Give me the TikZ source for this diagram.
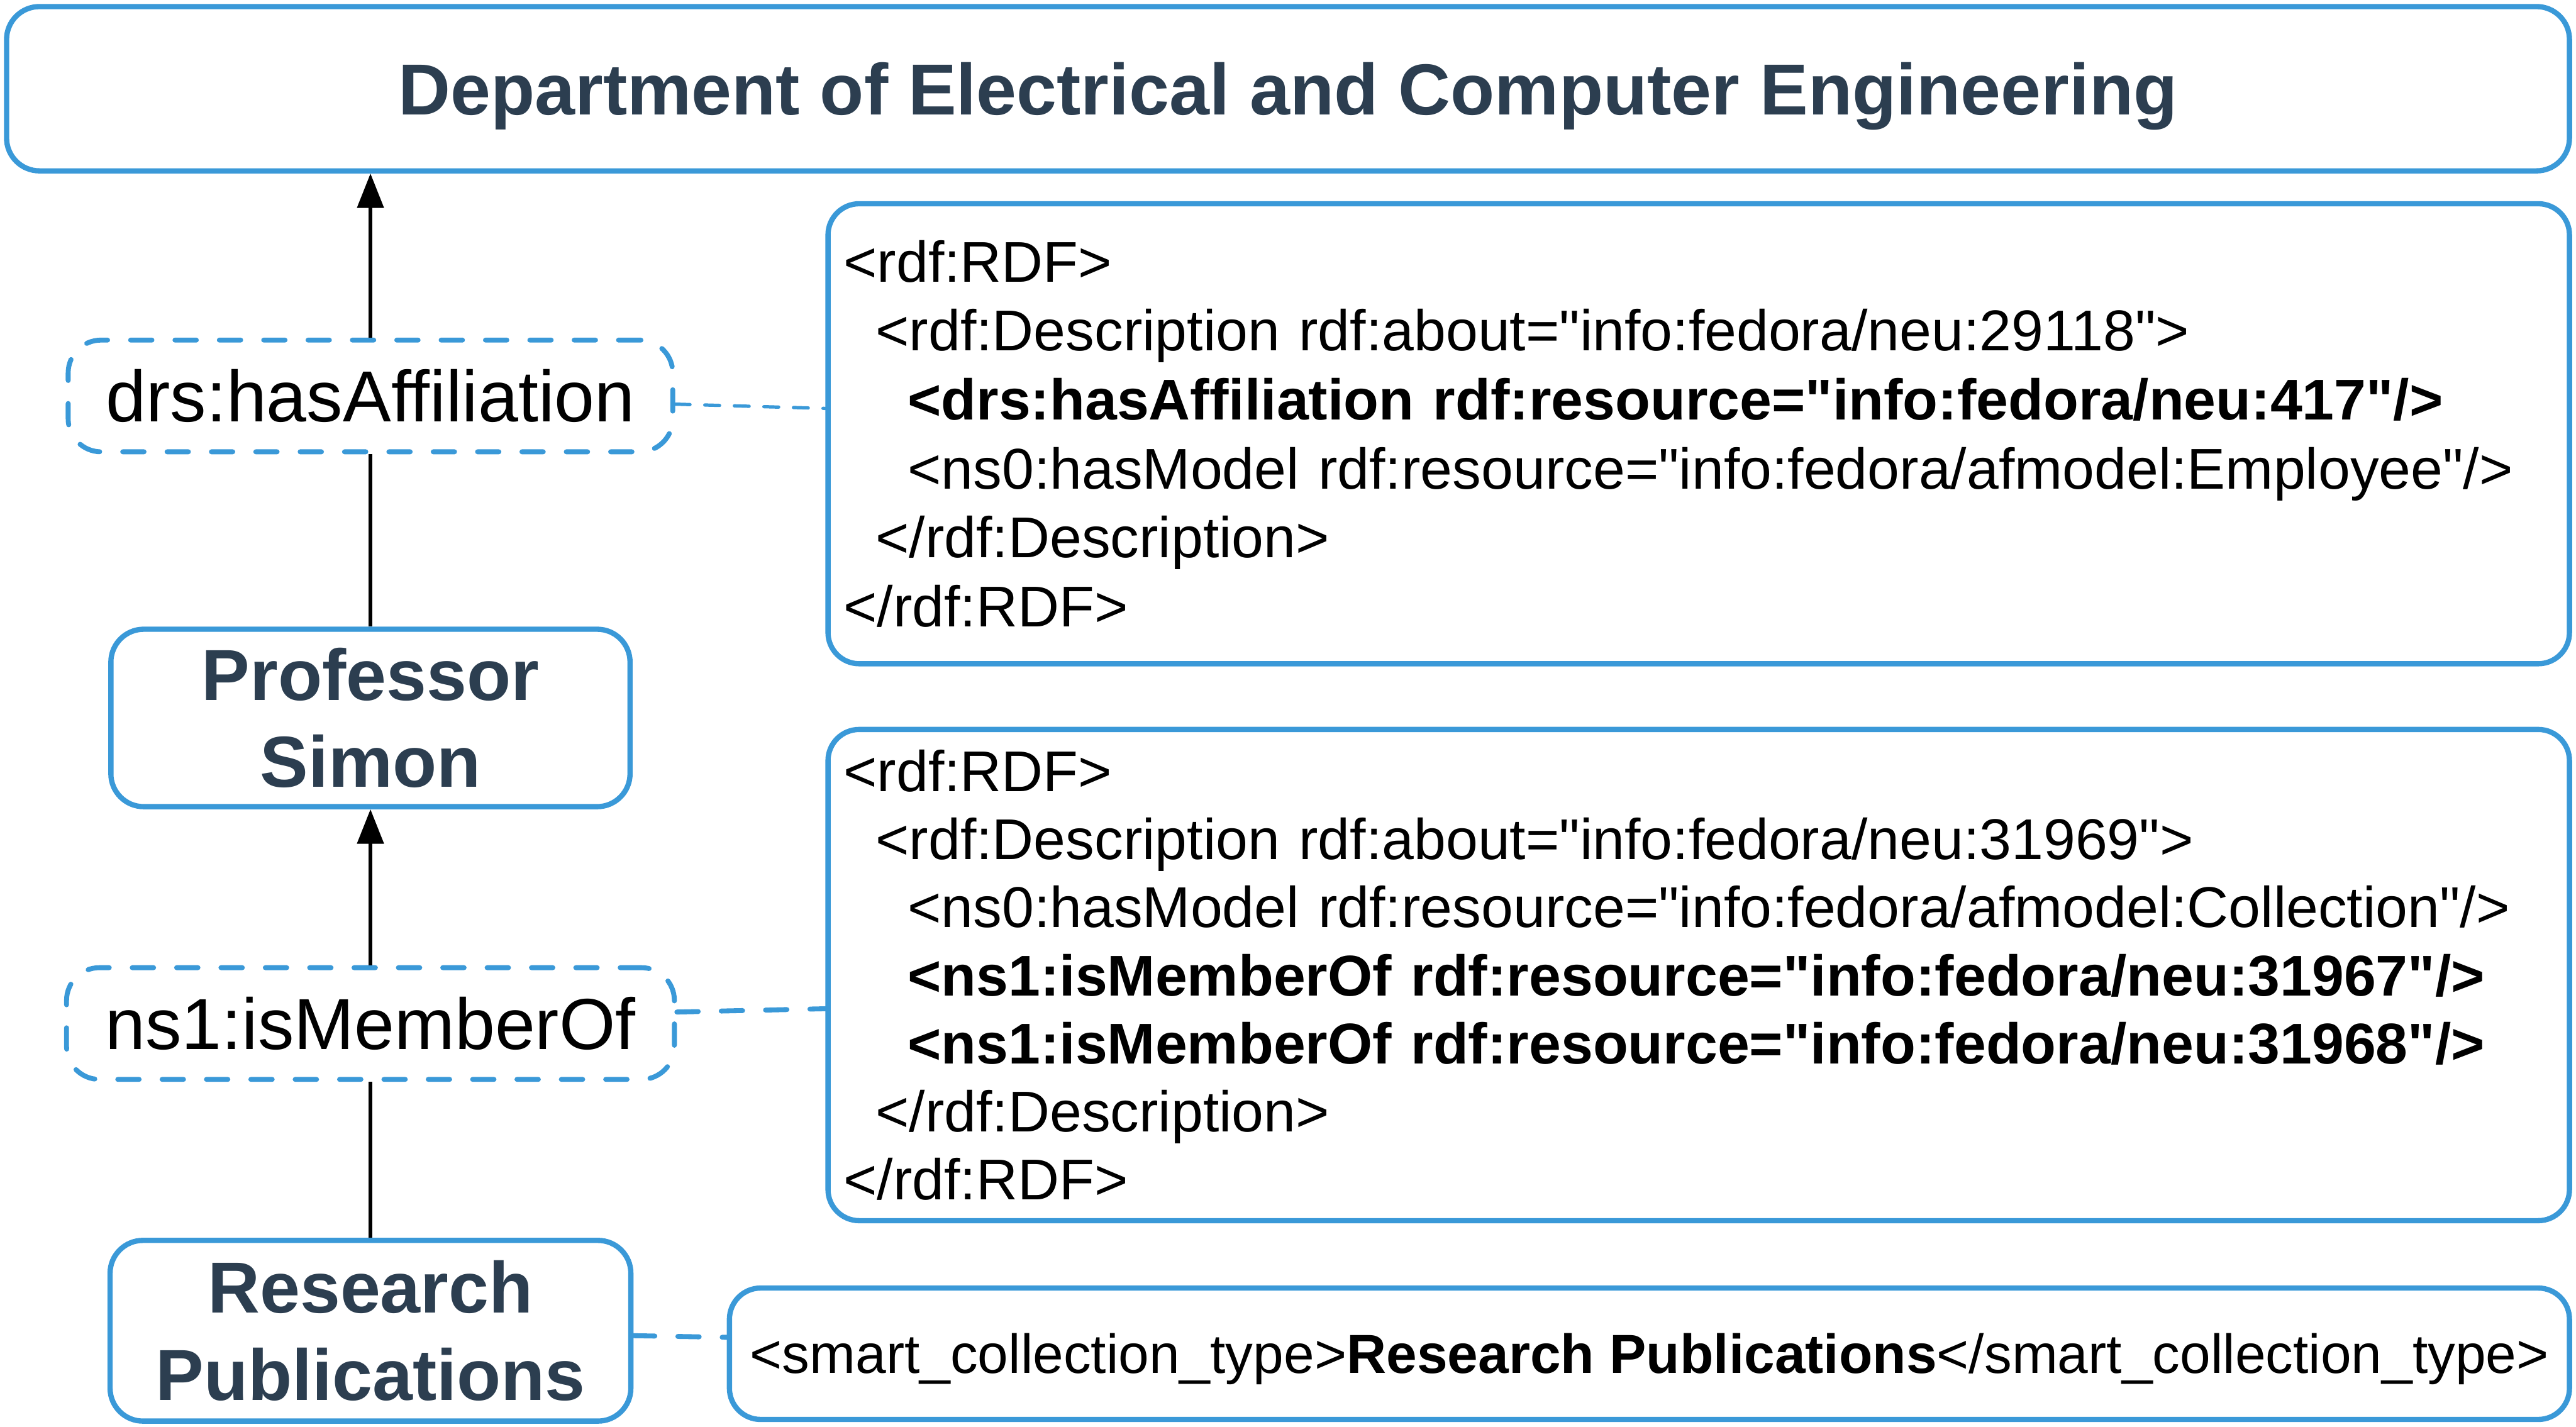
\documentclass[tikz,border=0pt]{standalone}
\usepackage{fontspec}
\setmainfont{Liberation Sans}[Ligatures=TeXOff]
\usetikzlibrary{arrows.meta,calc}
\definecolor{boxblue}{HTML}{3A99D8}
\definecolor{darktext}{HTML}{2C3E50}
\begin{document}
\begin{tikzpicture}[x=1pt,y=-1pt,
  solidbox/.style={draw=boxblue, line width=3.2pt, rounded corners=20pt, fill=white, inner sep=0pt},
  dashbox/.style={draw=boxblue, line width=3pt, rounded corners=20pt, dash pattern=on 13pt off 14pt, line cap=round, fill=white, inner sep=0pt},
  heading/.style={font=\fontsize{44}{53}\selectfont\bfseries, text=darktext, align=center},
  relation/.style={font=\fontsize{44}{53}\selectfont, text=black},
  code/.style={align=left, text=black},
  link/.style={line width=2.2pt, draw=black},
  linkarrow/.style={link, -{Triangle[length=21pt,width=16pt]}},
  dashlink/.style={draw=boxblue, line width=3pt, dash pattern=on 13pt off 14pt, line cap=round},
  thinlink/.style={draw=boxblue, line width=2pt, dash pattern=on 9pt off 9pt, line cap=round},
]
\fill[white] (0,0) rectangle (1568,868.4);
\useasboundingbox (0,0) rectangle (1568,868.4);

\node[solidbox, heading, minimum width=1560pt, minimum height=100pt, text height=32pt, text depth=0pt] (dept) at (784,54) {Department of Electrical and Computer Engineering};

\node[dashbox, relation, minimum width=368pt, minimum height=68pt, text height=31.5pt, text depth=0pt] (drs) at (225.5,241) {drs:hasAffiliation};

\node[solidbox, heading, minimum width=316pt, minimum height=108pt] (prof) at (225.5,437) {Professor\\Simon};

\node[dashbox, relation, minimum width=370pt, minimum height=68pt, text height=31.5pt, text depth=0pt] (ns1) at (225.5,623) {ns1:isMemberOf};

\node[solidbox, heading, minimum width=317pt, minimum height=110pt] (res) at (225.5,810) {Research\\Publications};

\node[solidbox, code, rounded corners=19pt, minimum width=1060pt, minimum height=280pt, text width=1041pt, inner xsep=9.5pt, font=\fontsize{35}{42}\selectfont] (rdf1) at (1034,264) {%
<rdf:RDF>\\
\hspace*{19.5pt}<rdf:Description rdf:about="info:fedora/neu:29118">\\
\hspace*{39pt}\textbf{<drs:hasAffiliation rdf:resource="info:fedora/neu:417"/>}\\
\hspace*{39pt}<ns0:hasModel rdf:resource="info:fedora/afmodel:Employee"/>\\
\hspace*{19.5pt}</rdf:Description>\\
</rdf:RDF>};

\node[solidbox, code, rounded corners=19pt, minimum width=1060pt, minimum height=299pt, text width=1041pt, inner xsep=9.5pt, font=\fontsize{35}{41.4}\selectfont] (rdf2) at (1034,593.5) {%
<rdf:RDF>\\
\hspace*{19.5pt}<rdf:Description rdf:about="info:fedora/neu:31969">\\
\hspace*{39pt}<ns0:hasModel rdf:resource="info:fedora/afmodel:Collection"/>\\
\hspace*{39pt}\textbf{<ns1:isMemberOf rdf:resource="info:fedora/neu:31967"/>}\\
\hspace*{39pt}\textbf{<ns1:isMemberOf rdf:resource="info:fedora/neu:31968"/>}\\
\hspace*{19.5pt}</rdf:Description>\\
</rdf:RDF>};

\node[solidbox, rounded corners=19pt, font=\fontsize{33.5}{40}\selectfont, text=black, minimum width=1120pt, minimum height=80pt, text height=24pt, text depth=0pt] (smart) at (1004,824) {<smart\_collection\_type>\textbf{Research Publications}</smart\_collection\_type>};

\draw[linkarrow] (drs.north) -- (drs.north |- dept.south);
\draw[link] (prof.north) -- (drs.south);
\draw[linkarrow] (ns1.north) -- (prof.south);
\draw[link] (res.north) -- (ns1.south);

\draw[thinlink] ($(drs.east)+(0,5)$) -- ($(drs.east -| rdf1.west)+(0,7.6)$);
\draw[dashlink] ($(ns1.east)+(0,-7)$) -- ($(ns1.east -| rdf2.west)+(0,-9)$);
\draw[dashlink] ($(res.east)+(0,3)$) -- ($(res.east -| smart.west)+(0,4)$);
\end{tikzpicture}
\end{document}
